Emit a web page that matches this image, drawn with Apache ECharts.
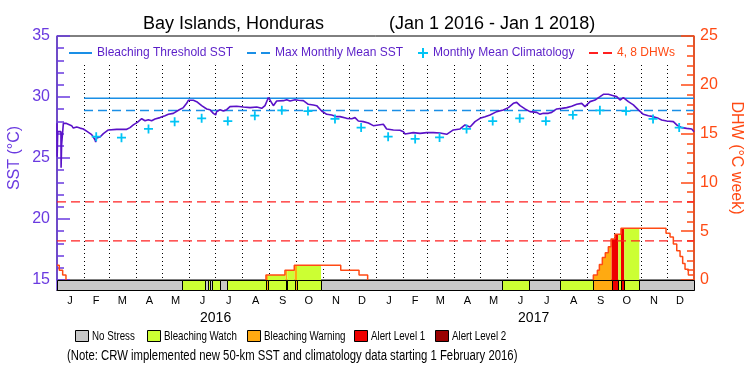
<!DOCTYPE html>
<html><head><meta charset="utf-8">
<script src="https://cdn.jsdelivr.net/npm/echarts/dist/echarts.min.js"></script>
<style>html,body{margin:0;padding:0;background:#fff}#c{width:750px;height:375px}</style>
</head><body><div id="c"></div>
<script>
// ---------- DATA ----------
const titleMain = 'Bay Islands, Honduras';
const titleRange = '(Jan 1 2016 - Jan 1 2018)';
const noteText = '(Note: CRW implemented new 50-km SST and climatology data starting 1 February 2016)';
const monthLetters = ['J','F','M','A','M','J','J','A','S','O','N','D'];
const yearLabels = ['2016','2017'];
const sstAxis = {min: 15, max: 35, step: 5};
const dhwAxis = {min: 0, max: 25, step: 5};

// SST: day index since 2016-01-01 and value (degC)
const sstDays = [0,0.2,0.5,0.8,4.5,4.7,5.3,7.1,7.3,10.3,16.8,18.7,22.6,26.4,30.2,34.0,39.8,43.6,44.4,45.5,49.4,53.2,58.9,68.5,80.0,83.8,87.6,92.2,97.2,101.0,104.8,108.6,112.5,118.2,124.0,127.8,133.5,139.3,145.0,148.8,150.7,156.5,160.3,166.0,171.8,175.6,179.4,182.1,183.2,187.1,190.9,194.7,198.5,206.2,213.9,221.5,229.2,234.9,238.7,241.4,242.5,244.5,248.3,252.1,259.8,263.6,267.4,273.1,277.0,282.7,288.4,294.2,298.0,303.7,309.5,315.2,321.0,324.8,332.4,338.2,342.0,345.8,351.6,357.3,363.0,368.8,374.5,378.3,386.0,393.6,397.5,399.4,408.9,416.6,424.2,431.9,439.5,447.2,454.8,462.5,468.2,474.0,479.7,485.4,491.2,496.9,504.6,512.2,518.0,523.7,527.5,531.4,537.1,542.8,550.5,554.3,558.1,563.9,567.7,573.4,579.2,584.9,590.6,596.4,602.1,605.9,611.7,617.4,623.2,627.0,628.9,632.7,638.5,642.3,646.1,649.9,655.7,661.4,667.2,672.9,678.6,684.4,690.1,693.9,699.7,707.3,711.2,716.9,722.6,728.4,731.0];
const sstVals = [27.84,25.1,26.2,27.16,27.16,24.2,26.1,26.1,27.84,27.84,27.65,27.45,27.54,27.45,27.38,27.2,26.92,26.5,26.3,26.65,26.72,27.0,27.3,27.35,27.35,27.49,27.71,27.92,28.22,28.05,28.14,28.06,28.2,28.31,28.47,28.58,28.66,28.91,29.13,29.48,29.73,29.73,29.62,29.29,29.02,28.96,28.66,28.53,28.8,28.96,28.85,28.96,29.21,29.24,29.18,29.13,29.18,29.07,29.29,29.75,29.95,29.75,29.29,29.67,29.7,29.78,29.67,29.78,29.73,29.7,29.4,29.35,29.29,28.85,28.58,28.53,28.39,28.39,28.25,28.22,28.31,28.03,27.98,27.87,27.65,27.71,27.76,27.38,27.3,27.27,27.16,26.97,27.08,27.02,27.08,27.08,27.05,26.94,27.3,27.38,27.71,27.54,27.98,28.25,28.39,28.53,28.8,28.93,29.13,29.48,29.56,29.29,29.02,28.8,28.74,28.58,28.66,28.66,28.74,29.02,29.07,29.13,29.24,29.4,29.48,29.21,29.62,29.75,30.03,30.22,30.11,30.22,30.11,30.03,29.75,29.95,29.62,29.35,28.94,28.58,28.47,28.39,28.25,28.12,28.03,27.98,27.71,27.49,27.43,27.38,27.16];

// Monthly mean climatology (plotted mid-month)
const climDates = ['2016-02-15','2016-03-15','2016-04-15','2016-05-15','2016-06-15','2016-07-15','2016-08-15','2016-09-15','2016-10-15','2016-11-15','2016-12-15','2017-01-15','2017-02-15','2017-03-15','2017-04-15','2017-05-15','2017-06-15','2017-07-15','2017-08-15','2017-09-15','2017-10-15','2017-11-15','2017-12-15'];
const climVals = [26.75,26.67,27.38,27.98,28.25,28.03,28.47,28.91,28.85,28.2,27.49,26.75,26.56,26.69,27.38,28.03,28.25,28.03,28.53,28.91,28.85,28.2,27.49];

const thresholdSST = 29.9;
const mmmSST = 28.9;
const climStartDate = '2016-02-01';
const dhwGuides = [4, 8];

// Degree Heating Weeks: change points (value holds from the day until the next)
const dhwDays = [0,2.6,6.5,10.3,239.8,261.6,272.3,325.6,346.6,356.5,615.5,620.1,622.4,625.8,629.2,632.7,635.8,640.3,647.2,698.9,703.5,707.3,711.2,715.0,718.0,720.7,724.5,731];
const dhwVals = [1.5,1.0,0.5,0,0.5,1.0,1.5,1.0,0.5,0,0.5,1.0,1.6,2.3,2.8,3.4,4.2,4.7,5.3,4.8,4.4,3.7,3.0,2.4,1.7,1.1,0.5,0.5];

// Daily stress level periods (0 none,1 watch,2 warning,3 alert 1,4 alert 2)
const stressStart = [0,143,170.4,173.3,175.6,177.9,187.6,194.7,239.8,242.1,262.5,264.3,272.8,275.4,303,510.3,542,577.6,615.4,636.5,644.1,647.2,651,668.2];
const stressEnd   = [143,170.4,173.3,175.6,177.9,187.6,194.7,239.8,242.1,262.5,264.3,272.8,275.4,303,510.3,542,577.6,615.4,636.5,644.1,647.2,651,668.2,731];
const stressLevel = [0,1,0,1,0,1,0,1,2,1,2,1,2,1,0,1,0,1,2,3,1,3,1,0];
const stressNames = ['No Stress','Bleaching Watch','Bleaching Warning','Alert Level 1','Alert Level 2'];

// ---------- STYLE / LAYOUT ----------
const stressColors = ['#c8c8c8','#ccff33','#ffaa11','#ee0000','#990000'];
const PURPLE = '#6a3ae0', SSTC = '#5a12c8', TXTP = '#5a1ec8', BLUE = '#1a8fe6', CYAN = '#00c4f5', DHWC = '#ff4a14', RED = '#ff2020';
const FONT = "'Liberation Sans', Arial, sans-serif";
const legBoxX = [75, 147, 247, 354, 435];

// ---------- HELPERS ----------
const DAY = 86400000, T0 = Date.UTC(2016,0,1);
function dayIdx(s){ const p = s.split('-').map(Number); return (Date.UTC(p[0],p[1]-1,p[2]) - T0)/DAY; }
const nDays = dayIdx('2018-01-01');
const cats = [];
for (let i=0;i<=nDays;i++) cats.push(new Date(T0+i*DAY).toISOString().slice(0,10));
const monthStarts = [], labelMap = {};
for (let y=2016;y<=2017;y++) for (let m=0;m<12;m++){
  const s=(Date.UTC(y,m,1)-T0)/DAY, e=(Date.UTC(y,m+1,1)-T0)/DAY;
  monthStarts.push(s);
  labelMap[s+Math.floor((e-s)/2)] = monthLetters[m];
}
yearLabels.forEach(function(yl){ labelMap[dayIdx(yl+'-07-01')] = '{y|'+yl+'}'; });
const splitSet = {}; monthStarts.forEach(function(d){ if (d>0) splitSet[d]=true; });

function dhwAt(d){ let v = dhwVals[0]; for (let i=0;i<dhwDays.length;i++){ if (dhwDays[i] <= d) v = dhwVals[i]; } return v; }
const dhwLine = [];
for (let i=0;i<dhwDays.length-1;i++){
  const v=dhwVals[i], d0=dhwDays[i], d1=dhwDays[i+1], pv = i>0 ? dhwVals[i-1] : v;
  if (v>0) { dhwLine.push([d0,pv],[d0,v],[d1,v]); }
  else { dhwLine.push([d0,pv],[d0,0],[d0,'-']); }
}
const sstData = sstDays.map(function(d,i){ return [d, sstVals[i]]; });
const climData = climDates.map(function(d,i){ return [dayIdx(d), climVals[i]]; });
const c0 = dayIdx(climStartDate);
const fillItems = [];
stressStart.forEach(function(s,i){ if (stressLevel[i]>0) fillItems.push([s, stressEnd[i], stressLevel[i]]); });

const PLUS = 'path://M4,0H6V10H4ZM0,4H10V6H0Z';
const SOLID_ICON = 'path://M0,0H23V2H0Z';
const DASH_ICON = 'path://M0,0H9V2H0ZM14,0H23V2H14Z';

const series = [
  {type:'custom', name:'dhwfill', xAxisIndex:0, yAxisIndex:1, data: fillItems, encode:{x:[0,1]}, z:2, silent:true,
   renderItem: function(p, api){
     const s=api.value(0), e=api.value(1), lv=api.value(2);
     const pts=[[s,0],[s,dhwAt(s)]];
     for (let i=1;i<dhwDays.length;i++){ const d=dhwDays[i]; if (d>s && d<e) pts.push([d,dhwVals[i-1]],[d,dhwVals[i]]); }
     pts.push([e,dhwAt(e-1e-6)],[e,0]);
     return {type:'polygon', shape:{points: pts.map(function(q){return api.coord(q);})}, style:{fill: stressColors[lv]}};
   }},
  {type:'line', name:'4, 8 DHWs', xAxisIndex:0, yAxisIndex:1, data:[[0,dhwGuides[0]],[nDays,dhwGuides[0]]], symbol:'none', z:4,
   lineStyle:{color:RED, width:1.3, type:[9,5]}, itemStyle:{color:RED}},
  {type:'line', name:'4, 8 DHWs', xAxisIndex:0, yAxisIndex:1, data:[[0,dhwGuides[1]],[nDays,dhwGuides[1]]], symbol:'none', z:4,
   lineStyle:{color:RED, width:1.3, type:[9,5]}, itemStyle:{color:RED}},
  {type:'line', name:'DHW', xAxisIndex:0, yAxisIndex:1, data: dhwLine, symbol:'none', connectNulls:false, z:5,
   lineStyle:{color:DHWC, width:1.5}},
  {type:'line', name:'Bleaching Threshold SST', xAxisIndex:0, yAxisIndex:0, data:[[c0,thresholdSST],[nDays,thresholdSST]], symbol:'none', z:5,
   lineStyle:{color:BLUE, width:1.5}, itemStyle:{color:BLUE}},
  {type:'line', name:'Max Monthly Mean SST', xAxisIndex:0, yAxisIndex:0, data:[[c0,mmmSST],[nDays,mmmSST]], symbol:'none', z:5,
   lineStyle:{color:BLUE, width:1.5, type:[9,5]}, itemStyle:{color:BLUE}},
  {type:'line', name:'SST', xAxisIndex:0, yAxisIndex:0, data: sstData, symbol:'none', z:6,
   lineStyle:{color:SSTC, width:1.6}},
  {type:'scatter', name:'Monthly Mean Climatology', xAxisIndex:0, yAxisIndex:0, data: climData, symbol: PLUS, symbolSize:9, z:7,
   itemStyle:{color:CYAN, opacity:1}}
];
stressNames.forEach(function(nm, k){
  const items=[];
  for (let i=0;i<stressStart.length;i++) if (stressLevel[i]===k) items.push([stressStart[i], stressEnd[i]]);
  series.push({type:'custom', name:nm, xAxisIndex:3, yAxisIndex:2, data: items, encode:{x:[0,1]}, z:8,
    itemStyle:{color: stressColors[k]},
    renderItem: function(p, api){
      const a=api.coord([api.value(0),1]), b=api.coord([api.value(1),0]);
      return {type:'rect', shape:{x:Math.round(a[0])+0.5, y:Math.round(a[1])+0.5, width:Math.round(b[0])-Math.round(a[0]), height:Math.round(b[1])-Math.round(a[1])},
        style:{fill: stressColors[k], stroke:'#000', lineWidth:1}};
    }});
});

function lineLegend(name, left, color, icon, iw, ih){
  return {data:[{name:name, icon:icon, textStyle:{color:color}}], left:left, top:42, itemWidth:iw, itemHeight:ih, itemGap:0, selectedMode:false,
    textStyle:{fontFamily:FONT, fontSize:12, color:color}};
}

const graphics = [];
stressNames.forEach(function(nm, k){
  graphics.push({type:'rect', silent:true, shape:{x:legBoxX[k]+0.5, y:330.5, width:13, height:11}, style:{fill:stressColors[k], stroke:'#000', lineWidth:1}});
  graphics.push({type:'text', silent:true, x:legBoxX[k]+17, y:336.5, scaleX:0.75, style:{text:nm, fontFamily:FONT, fontSize:13, fill:'#000', verticalAlign:'middle', align:'left'}});
});
graphics.push({type:'text', silent:true, x:67, y:356.5, scaleX:0.81, style:{text:noteText, fontFamily:FONT, fontSize:14, fill:'#000', verticalAlign:'middle', align:'left'}});

const option = {
  animation:false,
  backgroundColor:'#fff',
  title:[
    {text:titleMain, left:138, top:10, textStyle:{fontFamily:FONT, fontSize:18, fontWeight:'normal', color:'#000'}},
    {text:titleRange, left:384, top:10, textStyle:{fontFamily:FONT, fontSize:18, fontWeight:'normal', color:'#000'}}
  ],
  legend:[
    lineLegend('Bleaching Threshold SST', 64, TXTP, SOLID_ICON, 23, 2),
    lineLegend('Max Monthly Mean SST', 242, TXTP, DASH_ICON, 23, 2),
    lineLegend('Monthly Mean Climatology', 413, TXTP, PLUS, 10, 10),
    lineLegend('4, 8 DHWs', 584, DHWC, DASH_ICON, 23, 2)
  ],
  graphic: graphics,
  grid:[
    {left:57, right:56, top:36, bottom:95, show:true, borderColor:'#000', borderWidth:1, backgroundColor:'transparent', outerBoundsMode:'none', containLabel:false},
    {left:57, right:56, top:65, bottom:95, show:false, outerBoundsMode:'none', containLabel:false},
    {left:57, right:56, top:280, bottom:85, show:false, outerBoundsMode:'none', containLabel:false}
  ],
  xAxis:[
    {gridIndex:0, type:'value', min:0, max:nDays, show:false},
    {gridIndex:1, type:'category', data:cats, boundaryGap:false, axisLine:{show:false, onZero:false}, axisTick:{show:false}, axisLabel:{show:false},
     splitLine:{show:true, interval:function(i){ return !!splitSet[i]; }, lineStyle:{color:'#000', width:1, type:[1,3]}}},
    {gridIndex:2, type:'category', data:cats, boundaryGap:false, position:'bottom',
     axisLine:{show:true, onZero:false, lineStyle:{color:'#000', width:1}}, axisTick:{show:false}, splitLine:{show:false},
     axisLabel:{show:true, interval:function(i){ return labelMap[i] !== undefined; }, formatter:function(v,i){ return labelMap[i] || ''; },
       fontFamily:FONT, fontSize:11, color:'#000', margin:5, hideOverlap:false,
       rich:{y:{fontFamily:FONT, fontSize:14, color:'#000', padding:[16,0,0,0]}}}},
    {gridIndex:2, type:'value', min:0, max:nDays, show:false, position:'top'}
  ],
  yAxis:[
    {gridIndex:0, type:'value', position:'left', min:sstAxis.min, max:sstAxis.max, interval:sstAxis.step,
     axisLine:{show:true, onZero:false, lineStyle:{color:PURPLE, width:1.5}},
     axisTick:{show:true, inside:true, length:13, lineStyle:{color:PURPLE, width:1.5}},
     minorTick:{show:true, splitNumber:5, length:7, lineStyle:{color:PURPLE, width:1.5}},
     axisLabel:{color:PURPLE, fontFamily:FONT, fontSize:16, margin:7},
     splitLine:{show:false},
     name:'SST (°C)', nameLocation:'middle', nameGap:34, nameRotate:90, nameMoveOverlap:false,
     nameTextStyle:{color:PURPLE, fontFamily:FONT, fontSize:16}},
    {gridIndex:0, type:'value', position:'right', min:dhwAxis.min, max:dhwAxis.max, interval:dhwAxis.step,
     axisLine:{show:true, onZero:false, lineStyle:{color:DHWC, width:1.5}},
     axisTick:{show:true, inside:true, length:13, lineStyle:{color:DHWC, width:1.5}},
     minorTick:{show:true, splitNumber:5, length:7, lineStyle:{color:DHWC, width:1.5}},
     axisLabel:{color:DHWC, fontFamily:FONT, fontSize:16, margin:6},
     splitLine:{show:false},
     name:'DHW (°C week)', nameLocation:'middle', nameGap:34, nameRotate:-90, nameMoveOverlap:false,
     nameTextStyle:{color:DHWC, fontFamily:FONT, fontSize:16}},
    {gridIndex:2, type:'value', min:0, max:1, position:'left', axisLine:{show:true, onZero:false, lineStyle:{color:PURPLE, width:1.5}},
     axisTick:{show:false}, axisLabel:{show:false}, splitLine:{show:false}},
    {gridIndex:1, type:'value', min:0, max:1, show:false}
  ],
  series: series
};
const chart = echarts.init(document.getElementById('c'), null, {renderer:'canvas'});
chart.setOption(option);
</script></body></html>
